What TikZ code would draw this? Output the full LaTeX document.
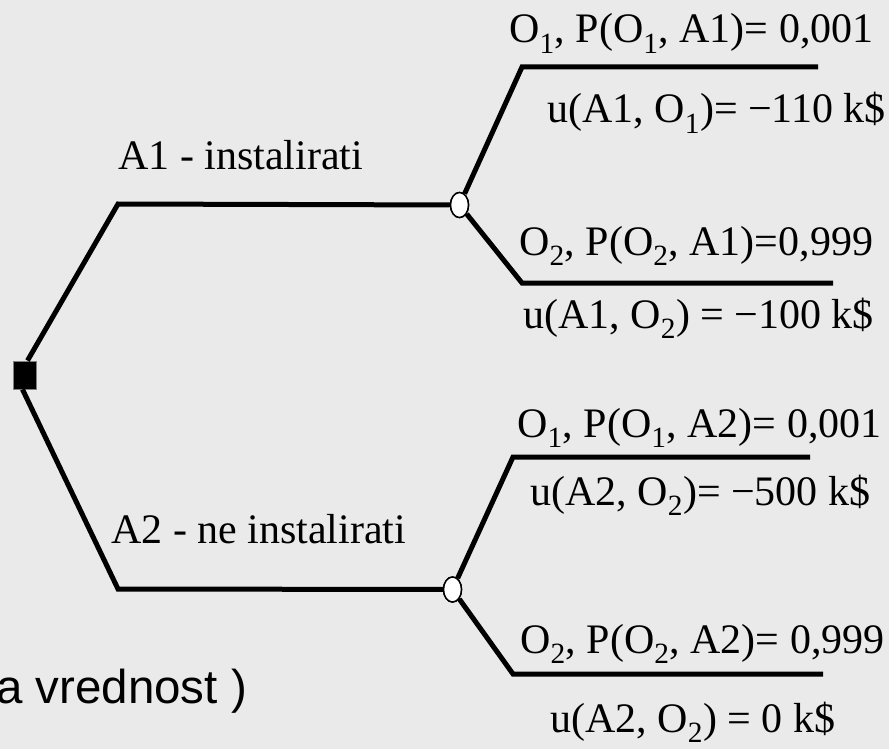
\documentclass[tikz,border=0pt]{standalone}
\usepackage{fontspec}
\setmainfont{Liberation Serif}
\setsansfont{Liberation Sans}
\usetikzlibrary{shapes.geometric}
\definecolor{bgc}{RGB}{234,234,234}
\begin{document}
\begin{tikzpicture}[x=1pt,y=-1pt,
  branch/.style={line width=5pt, line join=miter},
  chance/.style={ellipse, draw=black, line width=1.5pt, fill=white, minimum width=18pt, minimum height=25pt, inner sep=0pt},
  decision/.style={rectangle, draw=gray, line width=0.8pt, fill=black, minimum width=23pt, minimum height=28pt, inner sep=0pt},
  lbl/.style={anchor=base west, inner sep=0pt, font=\fontsize{42}{50}\selectfont},
  sans/.style={anchor=base west, inner sep=0pt, font=\sffamily\fontsize{47.5}{57}\selectfont}]
\fill[bgc] (0,0) rectangle (889,749);
\useasboundingbox (0,0) rectangle (889,749);
% coordinates
\coordinate (a1) at (118,204);
\coordinate (a2) at (118,589);
\coordinate (u1) at (522,67);
\coordinate (u1e) at (818,67);
\coordinate (l1) at (522,283);
\coordinate (l1e) at (833,283);
\coordinate (u2) at (513,457);
\coordinate (u2e) at (810,457);
\coordinate (l2) at (513,674);
\coordinate (l2e) at (823,674);
% nodes
\node[decision] (sq) at (24.5,375) {};
\node[chance] (c1) at (459.5,205) {};
\node[chance] (c2) at (452.5,589.5) {};
% connectors
\draw[branch] ([xshift=3pt]sq.north) -- (a1) -- (c1);
\draw[branch] ([xshift=-2pt]sq.south) -- (a2) -- (c2);
\draw[branch] (c1) -- (u1) -- (u1e);
\draw[branch] (c1) -- (l1) -- (l1e);
\draw[branch] (c2) -- (u2) -- (u2e);
\draw[branch] (c2) -- (l2) -- (l2e);
\node[chance] at (c1) {};
\node[chance] at (c2) {};
% labels
\node[lbl] (tA1) at (118,170) {A1 - instalirati};
\node[lbl] (tA2) at (111,543) {A2 - ne instalirati};
\node[lbl] (t1) at (509,43) {O\textsubscript{1}, P(O\textsubscript{1}, A1)= 0,001};
\node[lbl] (t2) at (547,123) {u(A1, O\textsubscript{1})= −110 k\$};
\node[lbl] (t3) at (519,255) {O\textsubscript{2}, P(O\textsubscript{2}, A1)=0,999};
\node[lbl] (t4) at (523,328) {u(A1, O\textsubscript{2}) = −100 k\$};
\node[lbl] (t5) at (517,437) {O\textsubscript{1}, P(O\textsubscript{1}, A2)= 0,001};
\node[lbl] (t6) at (530,505) {u(A2, O\textsubscript{2})= −500 k\$};
\node[lbl] (t7) at (520,653) {O\textsubscript{2}, P(O\textsubscript{2}, A2)= 0,999};
\node[lbl] (t8) at (550,732) {u(A2, O\textsubscript{2}) = 0 k\$};
\node[sans] (t9) at (-4,703) {a vrednost )};
\end{tikzpicture}
\end{document}
